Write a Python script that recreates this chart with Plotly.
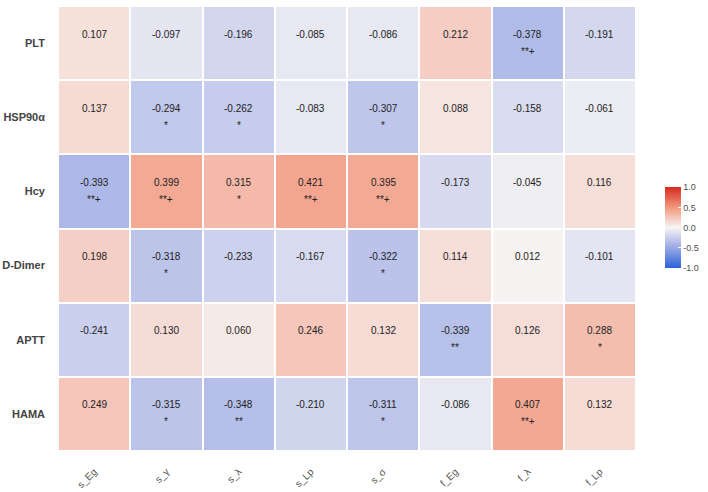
import plotly.graph_objects as go

cols = ["s_Eg", "s_γ", "s_λ", "s_Lp", "s_σ", "f_Eg", "f_λ", "f_Lp"]
rows = ["PLT", "HSP90α", "Hcy", "D-Dimer", "APTT", "HAMA"]

plt_vals = [0.107, -0.097, -0.196, -0.085, -0.086, 0.212, -0.378, -0.191]
hsp_vals = [0.137, -0.294, -0.262, -0.083, -0.307, 0.088, -0.158, -0.061]
hcy_vals = [-0.393, 0.399, 0.315, 0.421, 0.395, -0.173, -0.045, 0.116]
dd_vals = [0.198, -0.318, -0.233, -0.167, -0.322, 0.114, 0.012, -0.101]
aptt_vals = [-0.241, 0.130, 0.060, 0.246, 0.132, -0.339, 0.126, 0.288]
hama_vals = [0.249, -0.315, -0.348, -0.210, -0.311, -0.086, 0.407, 0.132]

plt_sig = ["", "", "", "", "", "", "**+", ""]
hsp_sig = ["", "*", "*", "", "*", "", "", ""]
hcy_sig = ["**+", "**+", "*", "**+", "**+", "", "", ""]
dd_sig = ["", "*", "", "", "*", "", "", ""]
aptt_sig = ["", "", "", "", "", "**", "", "*"]
hama_sig = ["", "*", "**", "", "*", "", "**+", ""]

z = [plt_vals, hsp_vals, hcy_vals, dd_vals, aptt_vals, hama_vals]
sig = [plt_sig, hsp_sig, hcy_sig, dd_sig, aptt_sig, hama_sig]

colorscale = [
    [0.0, "#2b63d9"],
    [0.25, "#9aa8e4"],
    [0.5, "#f7f5f5"],
    [0.75, "#f2967c"],
    [1.0, "#d62a1e"],
]

fig = go.Figure()
fig.add_trace(go.Heatmap(
    z=z, x=cols, y=rows,
    zmin=-1, zmax=1,
    colorscale=colorscale,
    xgap=2, ygap=2,
    hoverinfo="skip",
    colorbar=dict(
        x=1.05, xanchor="left", y=0.502, yanchor="middle",
        len=81, lenmode="pixels", thickness=16,
        xpad=0, ypad=0,
        outlinewidth=0,
        tickvals=[-1, -0.5, 0, 0.5, 1],
        ticktext=["-1.0", "-0.5", "0.0", "0.5", "1.0"],
        ticks="inside", ticklen=3, tickcolor="white", tickwidth=1,
        tickfont=dict(family="Liberation Sans, Arial", size=9, color="#4d4d4d"),
    ),
))

annotations = []
for i, r in enumerate(rows):
    for j, c in enumerate(cols):
        annotations.append(dict(
            x=c, y=r, xref="x", yref="y", text=f"{z[i][j]:.3f}",
            showarrow=False, yshift=9,
            font=dict(family="Liberation Sans, Arial", size=10, color="#222222"),
        ))
        if sig[i][j]:
            annotations.append(dict(
                x=c, y=r, xref="x", yref="y", text=sig[i][j],
                showarrow=False, yshift=-8,
                font=dict(family="Liberation Sans, Arial", size=10, color="#222222"),
            ))

fig.update_layout(
    width=708, height=492,
    margin=dict(l=58, r=70, t=6, b=41),
    paper_bgcolor="white", plot_bgcolor="white",
    annotations=annotations,
    xaxis=dict(
        tickangle=-45, showgrid=False, zeroline=False, showline=False,
        tickfont=dict(family="Liberation Sans, Arial", size=10, color="#555555"),
        ticks="", ticklabelstandoff=12, automargin=False,
    ),
    yaxis=dict(
        autorange="reversed", showgrid=False, zeroline=False, showline=False,
        tickfont=dict(family="Liberation Sans, Arial", size=11, color="#444444", weight="bold"),
        ticks="", ticklabelstandoff=12, automargin=False,
    ),
)

fig.write_html("out.html")
